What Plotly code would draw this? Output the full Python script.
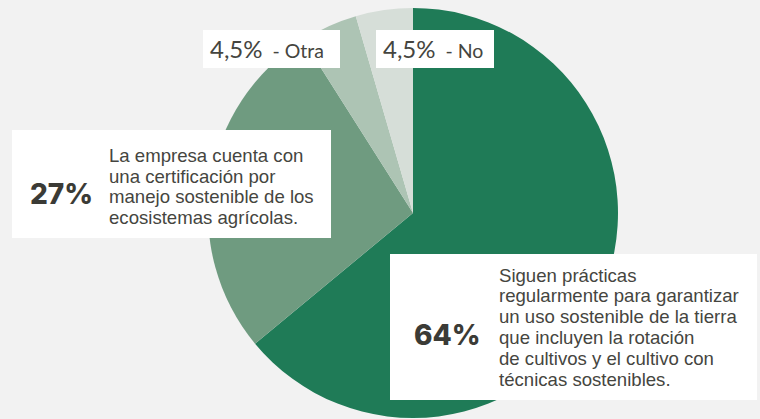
import plotly.graph_objects as go

# ---- data ----
labels = ["Sí, prácticas", "Certificación", "Otra", "No"]
values = [64, 27, 4.5, 4.5]
colors = ["#1f7b57", "#6f9b80", "#adc4b4", "#d6ded8"]

big_pct = ["64%", "27%"]
text_64 = ["Siguen prácticas", "regularmente para garantizar", "un uso sostenible de la tierra",
           "que incluyen la rotación", "de cultivos y el cultivo con", "técnicas sostenibles."]
text_27 = ["La empresa cuenta con", "una certificación por", "manejo sostenible de los",
           "ecosistemas agrícolas."]
small_labels = [("4,5%", "Otra"), ("4,5%", "No")]

W, H = 760, 419
def px(x):
    return x / W
def py(y):
    return 1 - y / H

fig = go.Figure(go.Pie(
    labels=labels, values=values, sort=False, direction="clockwise", rotation=0,
    marker=dict(colors=colors, line=dict(width=0)),
    textinfo="none", hoverinfo="skip", showlegend=False,
    domain=dict(x=[px(208), px(618)], y=[py(418), py(8)]),
))

shapes = []
def box(x0, y0, x1, y1):
    shapes.append(dict(type="rect", xref="paper", yref="paper",
                       x0=px(x0), x1=px(x1), y0=py(y1), y1=py(y0),
                       fillcolor="white", line=dict(width=0), layer="above"))

box(12, 130, 331, 238)
box(390, 254, 757, 400)
box(203, 30, 340, 68)
box(376, 30, 494, 68)

ann = []
body_font = dict(family="Liberation Sans, Arial", size=18.6, color="#454540")
for i, t in enumerate(text_27):
    ann.append(dict(x=px(107), y=py(156 + i * 20.4), xref="paper", yref="paper",
                    text=t, showarrow=False, xanchor="left", yanchor="middle", font=body_font))
for i, t in enumerate(text_64):
    ann.append(dict(x=px(497), y=py(275 + i * 20.8), xref="paper", yref="paper",
                    text=t, showarrow=False, xanchor="left", yanchor="middle", font=body_font))

big_font = dict(family="Inter, Open Sans", size=28, color="#3b3b36", weight=800)
ann.append(dict(x=px(447), y=py(335), xref="paper", yref="paper", text=big_pct[0],
                showarrow=False, xanchor="center", yanchor="middle", font=big_font))
ann.append(dict(x=px(61), y=py(194), xref="paper", yref="paper", text=big_pct[1],
                showarrow=False, xanchor="center", yanchor="middle", font=big_font))

small_font = dict(family="Lato, Open Sans", size=19.5, color="#454540")
for (pct, name), x0 in zip(small_labels, [208, 381]):
    ann.append(dict(x=px(x0), y=py(48), xref="paper", yref="paper",
                    text=f"<span style='font-size:24px'>{pct}</span>&nbsp;&nbsp;-&nbsp;{name}",
                    showarrow=False, xanchor="left", yanchor="middle", font=small_font))

fig.update_layout(
    width=W, height=H, margin=dict(l=0, r=0, t=0, b=0),
    paper_bgcolor="#f2f2f2", plot_bgcolor="#f2f2f2",
    shapes=shapes, annotations=ann,
)
fig.write_html("out.html", config={"displayModeBar": False},
               post_script="document.body.style.margin='0';document.body.style.background='#f2f2f2';")
